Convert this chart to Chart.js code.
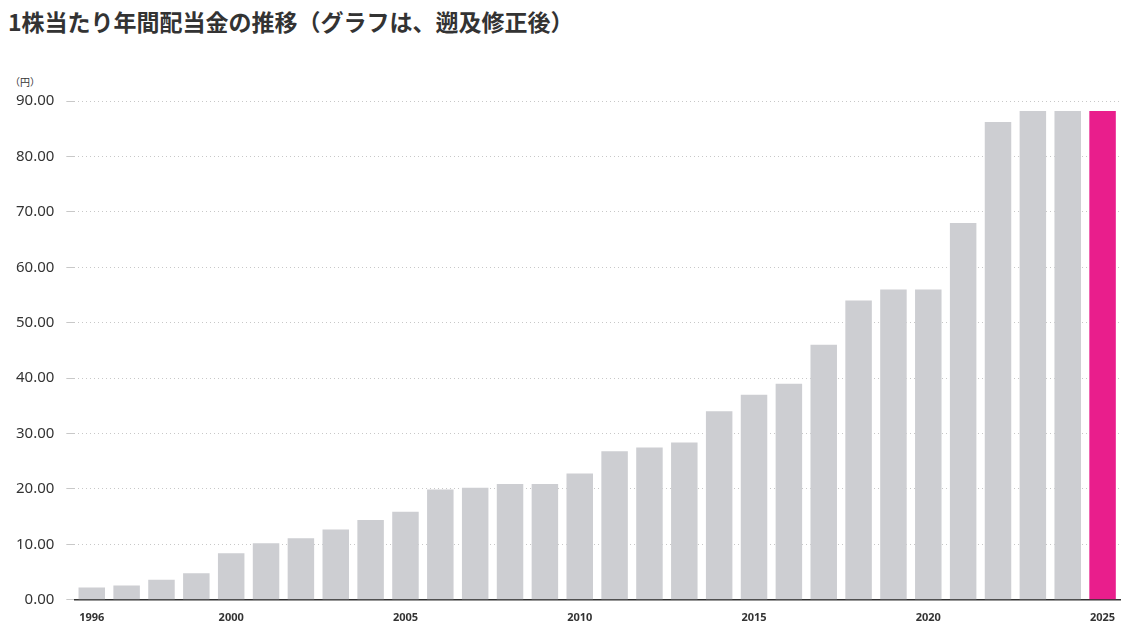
<!DOCTYPE html>
<html><head><meta charset="utf-8">
<script src="https://cdn.jsdelivr.net/npm/chart.js@4"></script>
<style>
body{margin:0;background:#fff;font-family:"Noto Sans CJK JP","Noto Sans",sans-serif;}
h1{margin:0;position:absolute;left:8px;top:4px;font-size:23px;font-weight:bold;color:#333;}
#unit{position:absolute;left:10px;top:74px;font-size:10px;color:#333;}
#wrap{position:absolute;left:0;top:80px;width:1126px;height:547px;}
</style></head><body>
<h1>1株当たり年間配当金の推移（グラフは、遡及修正後）</h1>
<div id="unit">（円）</div>
<div id="wrap"><canvas id="c"></canvas></div>
<script>
// years and dividends per share (yen)
const years=[];
for(let y=1996;y<=2025;y++) years.push(String(y));
const dividends=[2.2,2.6,3.6,4.8,8.4,10.2,11.1,12.7,14.4,15.9,19.9,20.2,20.9,20.9,22.8,26.8,27.5,28.4,34,37,39,46,54,56,56,68,86.2,88.2,88.2,88.2];
const shownYears=["1996","2000","2005","2010","2015","2020","2025"];

new Chart(document.getElementById("c"),{
type:"bar",
data:{labels:years,datasets:[{
data:dividends,
backgroundColor:years.map(y=>y==="2025"?"#e91e8c":"#cdced2"),
categoryPercentage:1,barPercentage:0.76
}]},
options:{
responsive:true,maintainAspectRatio:false,animation:false,
layout:{padding:{left:4,right:6,top:8,bottom:0}},
plugins:{legend:{display:false},tooltip:{enabled:false}},
scales:{
x:{grid:{display:false},border:{color:"#333",width:1.5},
ticks:{autoSkip:false,maxRotation:0,color:"#333",font:{family:"Noto Sans",size:11,weight:"bold"},
callback:function(v){const l=this.getLabelForValue(v);return shownYears.includes(l)?l:"";}}},
y:{min:0,max:90,grid:{color:"#c8c8c8"},border:{display:false,dash:[1,3]},
ticks:{stepSize:10,color:"#333",font:{family:"Noto Sans",size:15},padding:12,callback:v=>v.toFixed(2)}}
}}
});
</script>
</body></html>
